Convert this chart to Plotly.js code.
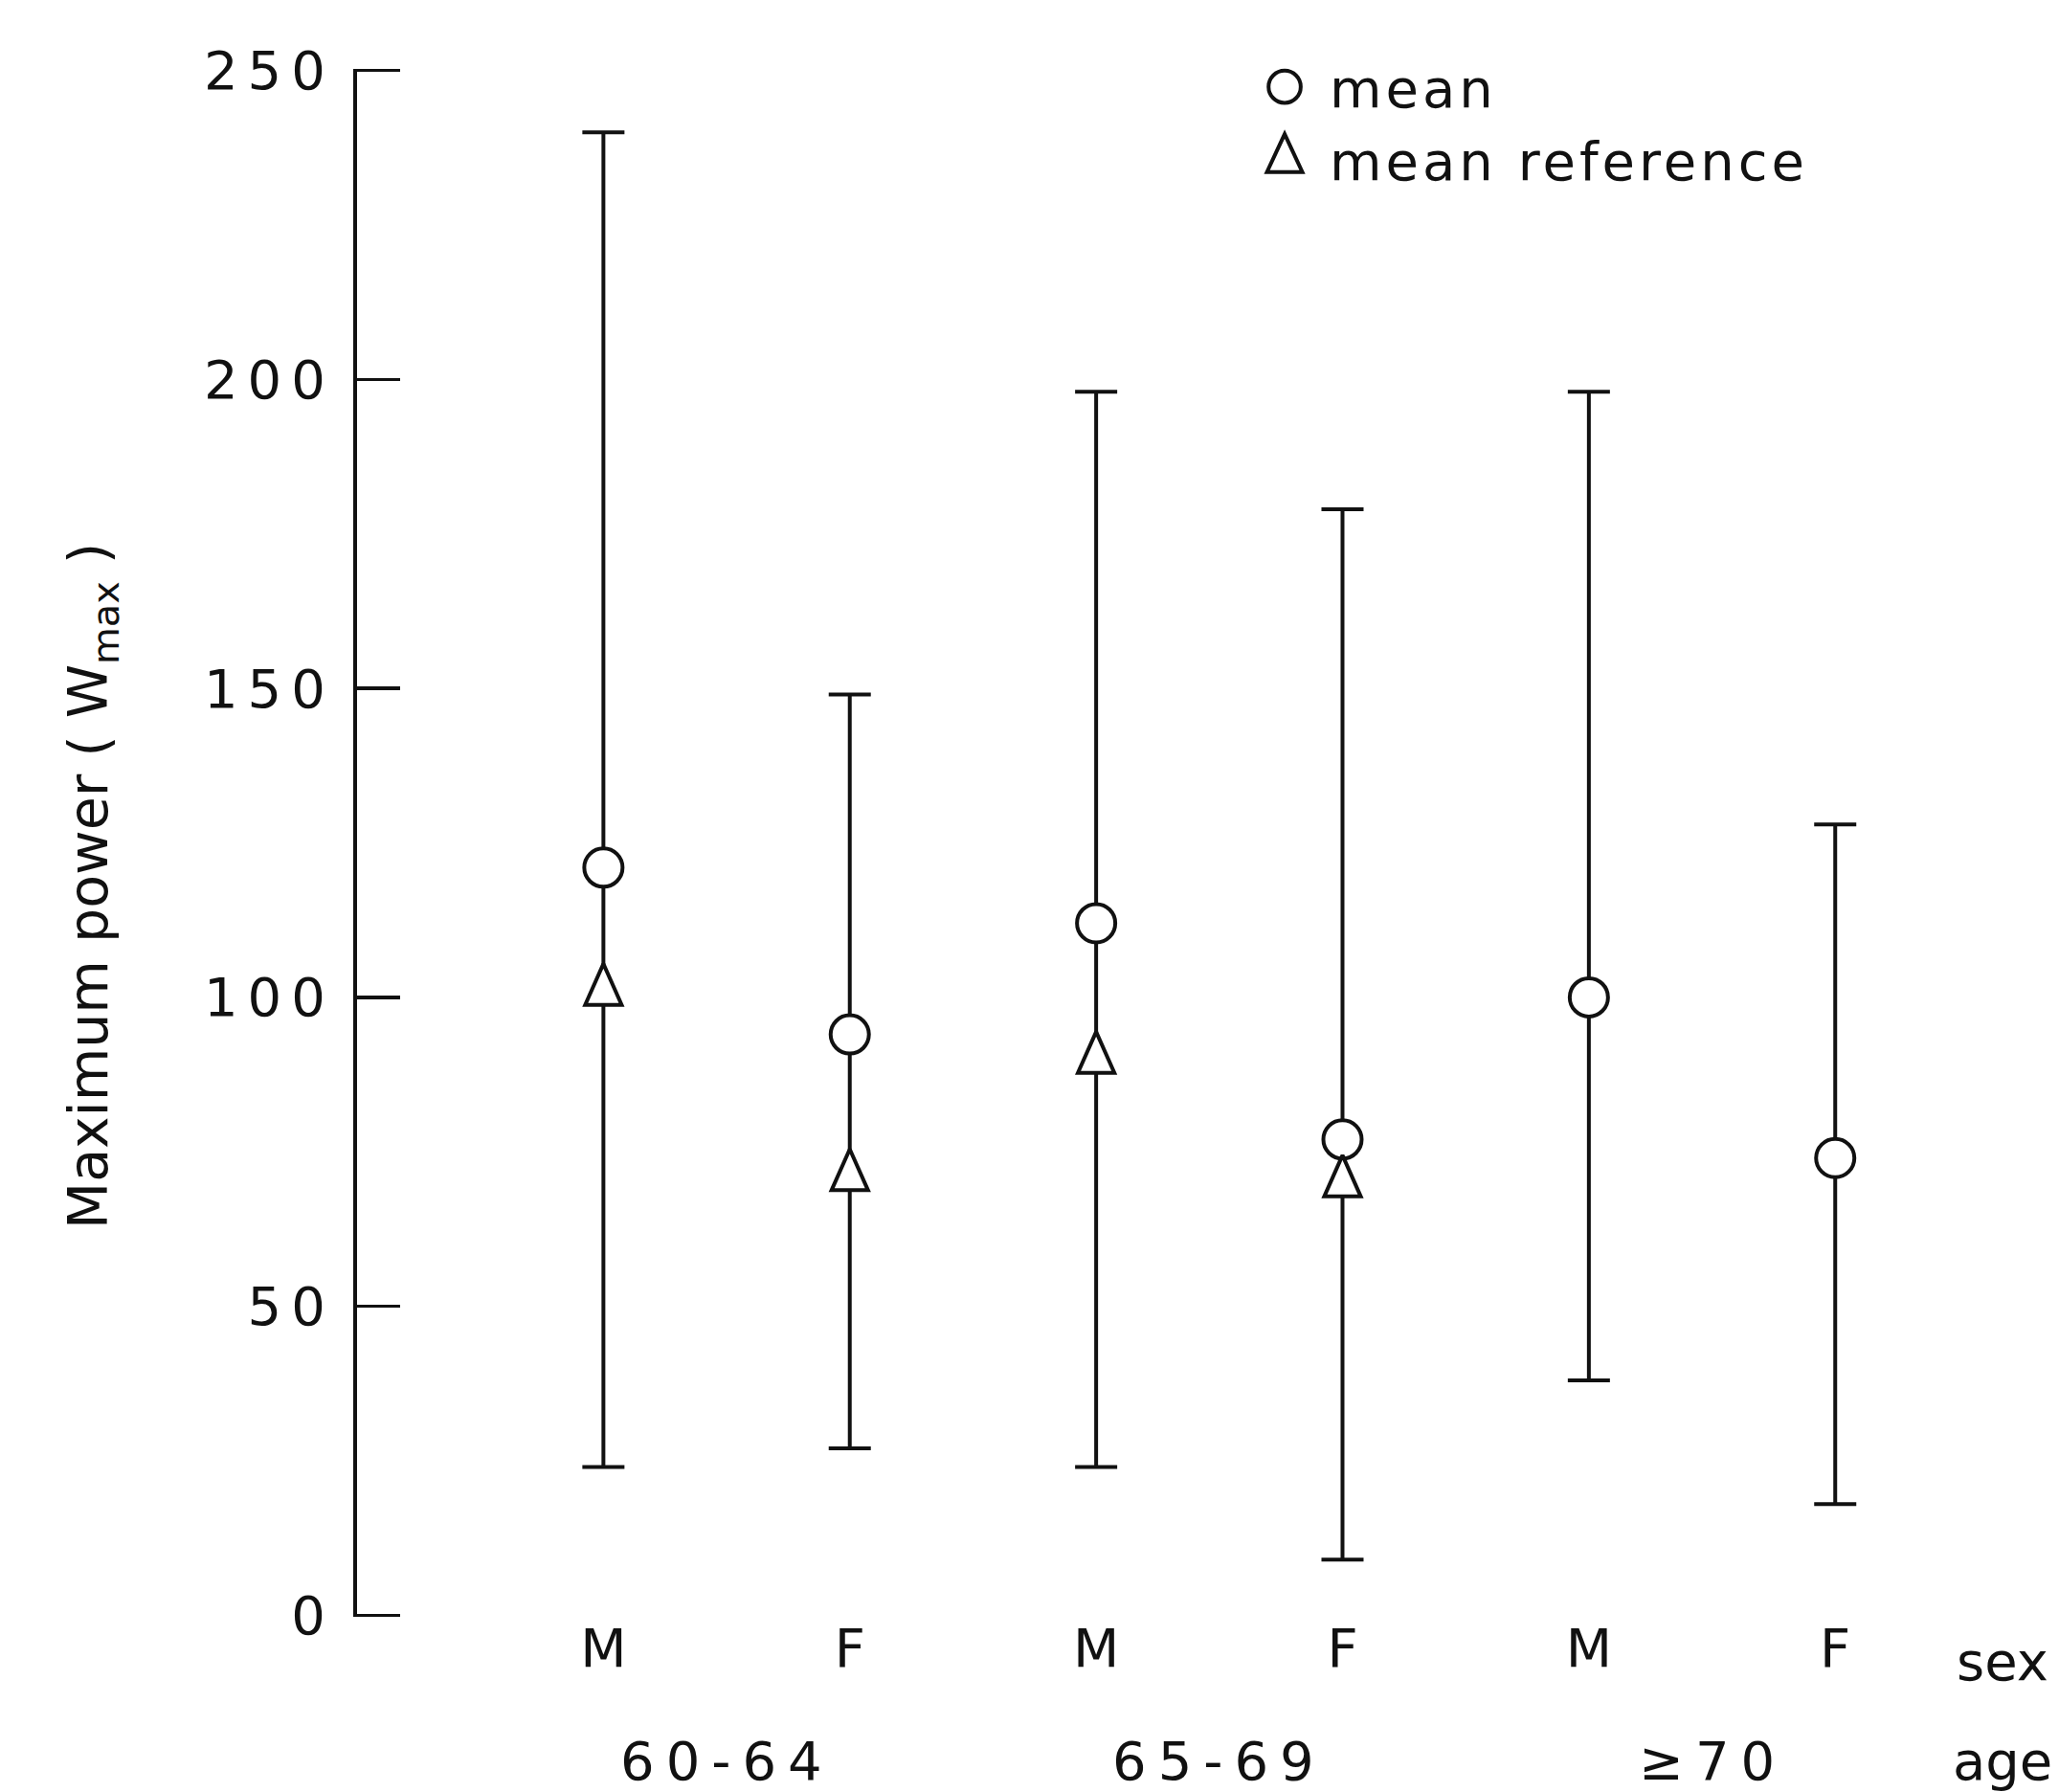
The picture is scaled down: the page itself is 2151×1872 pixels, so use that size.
<!DOCTYPE html>
<html>
<head>
<meta charset="utf-8">
<script src="https://cdn.plot.ly/plotly-3.0.1.min.js"></script>
<style>
  html, body { margin: 0; padding: 0; background: #ffffff; }
  #chart { width: 2151px; height: 1872px; }
  .legendtext { letter-spacing: 4px; }
</style>
</head>
<body>
<div id="chart"></div>
<script>
// ---- data ----
const positions   = [1, 2, 3, 4, 5, 6];
const sexLabels   = ["M", "F", "M", "F", "M", "F"];
const ageGroups   = ["60-64", "65-69", "\u226570"];
const ageCenters  = [1.5, 3.5, 5.5];
const meanValues  = [121, 94, 112, 77, 100, 74];
const upperValues = [240, 149, 198, 179, 198, 128];
const lowerValues = [24, 27, 24, 9, 38, 18];
const refPositions = [1, 2, 3, 4];
const refValues    = [101, 71, 90, 70];
const yTicks       = [0, 50, 100, 150, 200, 250];

const FONT = "DejaVu Sans, Liberation Sans, sans-serif";
const INK = "#111111";
const FS = 56;

const spaced = (t, px) => '<span style="letter-spacing:' + px + 'px">' + t + '</span>';

const errPlus  = upperValues.map((u, i) => u - meanValues[i]);
const errMinus = meanValues.map((m, i) => m - lowerValues[i]);

const traces = [
  {
    type: "scatter",
    mode: "markers",
    name: "mean",
    x: positions,
    y: meanValues,
    marker: { symbol: "circle", size: 40, color: "#ffffff", line: { color: INK, width: 4 } },
    error_y: {
      type: "data", symmetric: false,
      array: errPlus, arrayminus: errMinus,
      color: INK, thickness: 4, width: 22
    },
    cliponaxis: false
  },
  {
    type: "scatter",
    mode: "markers",
    name: "mean reference",
    x: refPositions,
    y: refValues,
    marker: { symbol: "triangle-up", size: 44, color: "#ffffff", line: { color: INK, width: 4 } },
    cliponaxis: false
  }
];

const annotations = ageGroups.map((g, i) => ({
  text: spaced(g, 12), x: ageCenters[i], xref: "x", y: -0.093, yref: "paper",
  xanchor: "center", yanchor: "middle", showarrow: false,
  font: { family: FONT, size: FS, color: INK }
}));
annotations.push({
  text: "sex", x: 0.975, xref: "paper", y: -0.029, yref: "paper",
  xanchor: "center", yanchor: "middle", showarrow: false,
  font: { family: FONT, size: FS, color: INK }
});
annotations.push({
  text: "age", x: 0.975, xref: "paper", y: -0.093, yref: "paper",
  xanchor: "center", yanchor: "middle", showarrow: false,
  font: { family: FONT, size: FS, color: INK }
});
// y-axis title, placed like the reference (slightly below the axis centre)
annotations.push({
  text: "Maximum power ( W<sub>max</sub> )",
  x: -0.157, xref: "paper", y: 0.472, yref: "paper",
  xanchor: "center", yanchor: "middle", textangle: -90, showarrow: false,
  font: { family: FONT, size: FS + 1, color: INK }
});

const layout = {
  width: 2151,
  height: 1872,
  margin: { l: 373, r: 15, t: 72, b: 183, pad: 0 },
  paper_bgcolor: "#ffffff",
  plot_bgcolor: "#ffffff",
  font: { family: FONT, size: FS, color: INK },
  showlegend: true,
  legend: {
    x: 0.523, xanchor: "left", y: 1.015, yanchor: "top",
    bgcolor: "rgba(0,0,0,0)", borderwidth: 0,
    font: { family: FONT, size: FS, color: INK },
    itemwidth: 84, tracegroupgap: 0
  },
  xaxis: {
    range: [0, 6.85],
    tickmode: "array",
    tickvals: positions,
    ticktext: sexLabels,
    showgrid: false, zeroline: false, showline: false,
    ticks: "", ticklabelstandoff: -5,
    tickfont: { family: FONT, size: FS, color: INK },
    fixedrange: true
  },
  yaxis: {
    range: [-0.25, 250.25],
    tickmode: "array",
    tickvals: yTicks,
    ticktext: yTicks.map(v => spaced(String(v), 10)),
    showgrid: false, zeroline: false,
    showline: true, linecolor: INK, linewidth: 4,
    ticks: "inside", ticklen: 45, tickwidth: 3.5, tickcolor: INK,
    ticklabelstandoff: 8,
    tickfont: { family: FONT, size: FS, color: INK },
    automargin: false,
    fixedrange: true
  },
  annotations: annotations
};

function reshape(paths, sx, sy) {
  paths.forEach(function (p) {
    const t = p.getAttribute("transform") || "";
    p.setAttribute("transform", t + " scale(" + sx + "," + sy + ")");
    p.style.vectorEffect = "non-scaling-stroke";
  });
}

Plotly.newPlot("chart", traces, layout, { staticPlot: true, displayModeBar: false }).then(function (gd) {
  // slimmer, taller triangles as in the original (shape only; positions come from Plotly)
  const traceGroups = gd.querySelectorAll(".scatterlayer .trace");
  if (traceGroups.length > 1) reshape(traceGroups[1].querySelectorAll("path.point"), 0.75, 1.3);
  // legend symbols in the original are as large as the lettering
  const items = gd.querySelectorAll(".legend .traces");
  if (items.length > 1) {
    reshape(items[0].querySelectorAll(".legendpoints path"), 2.1, 2.1);
    reshape(items[1].querySelectorAll(".legendpoints path"), 2.0, 3.3);
  }
});
</script>
</body>
</html>
